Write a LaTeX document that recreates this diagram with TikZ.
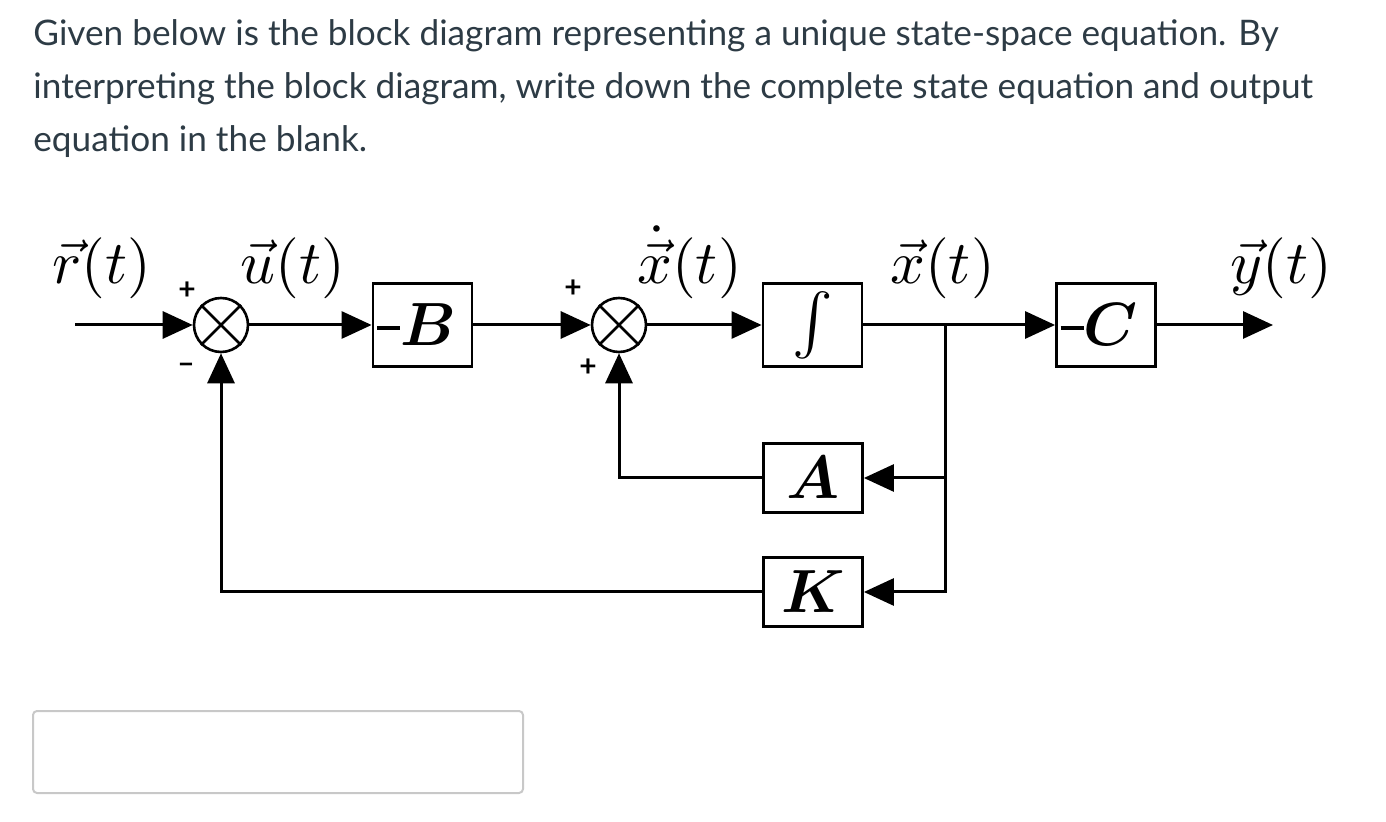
\documentclass[tikz,border=0pt]{standalone}
\usepackage{amsmath,bm}
\usepackage[no-math]{fontspec}
\newfontfamily\latofont{Lato}
\usetikzlibrary{arrows.meta}

\definecolor{canvastext}{RGB}{45,59,69}
\definecolor{fieldgray}{RGB}{200,200,200}
\newcommand{\bigmath}[1]{\scalebox{3.05}{$#1$}}
\newcommand{\negbar}{\rule[8.2pt]{11.5pt}{1.7pt}}

\tikzset{
  para/.style={anchor=base west, inner sep=0, text=canvastext, font=\latofont\fontsize{17.6}{20}\selectfont},
  wire/.style={line width=1.5pt},
  flow/.style={wire, -{Triangle[length=15pt, width=13.5pt]}},
  blockbox/.style={draw, line width=1.4pt, minimum width=49.5pt, inner sep=0pt},
  gainbox/.style={blockbox, text width=45.5pt, align=left, inner xsep=2pt, minimum height=41.6pt},
  sumpt/.style={draw, circle, line width=1.3pt, minimum size=27pt, inner sep=0pt},
  sig/.style={anchor=base west, inner sep=0pt},
  sgn/.style={inner sep=0pt, font=\latofont\bfseries\fontsize{15}{18}\selectfont}
}

\begin{document}
\begin{tikzpicture}[x=0.5pt, y=-0.5pt]
  \useasboundingbox (0,0) rectangle (1386,822);

  % question
  \node[para] (line1) at (33,46) {Given below is the block diagram representing a unique state-space equation. By};
  \node[para] (line2) at (33,99) {interpreting the block diagram, write down the complete state equation and output};
  \node[para] (line3) at (33,152) {equation in the blank.};

  % blocks
  \node[sumpt] (s1) at (221,325) {};
  \node[gainbox] (Bbox) at (422.5,325) {\negbar\bigmath{\bm{B}}};
  \node[sumpt] (s2) at (619,325) {};
  \node[blockbox, minimum height=41.6pt] (intg) at (812.5,325) {\bigmath{\int}};
  \node[gainbox] (Cbox) at (1106,325) {\negbar\bigmath{\bm{C}}};
  \node[blockbox, minimum height=34.6pt] (Abox) at (813,478) {\bigmath{\bm{A}}};
  \node[blockbox, minimum height=34.6pt] (Kbox) at (813,592) {\bigmath{\bm{K}}};
  \draw[line width=1.3pt] (s1.45) -- (s1.225) (s1.135) -- (s1.-45);
  \draw[line width=1.3pt] (s2.45) -- (s2.225) (s2.135) -- (s2.-45);

  \coordinate (in) at (75,325);
  \coordinate (br) at (945,325);
  \coordinate (brA) at (945,478);
  \coordinate (out) at (1273,325);

  % signals
  \draw[flow] (in) -- (s1);
  \draw[flow] (s1) -- (Bbox);
  \draw[flow] (Bbox) -- (s2);
  \draw[flow] (s2) -- (intg);
  \draw[wire] (intg) -- (br);
  \draw[flow] (br) -- (Cbox);
  \draw[flow] (Cbox) -- (out);
  \draw[flow] (br) |- (Kbox);
  \draw[flow] (brA) -- (Abox);
  \draw[flow] (Abox) -| (s2);
  \draw[flow] (Kbox) -| (s1);

  % labels
  \node[sig] (rlab) at (52,284) {\bigmath{\vec{r}(t)}};
  \node[sig] (ulab) at (240,284) {\bigmath{\vec{u}(t)}};
  \node[sig] (xdlab) at (637,284) {\bigmath{\dot{\vec{x}}(t)}};
  \node[sig] (xlab) at (890,284) {\bigmath{\vec{x}(t)}};
  \node[sig] (ylab) at (1230,284) {\bigmath{\vec{y}(t)}};
  \node[sgn] (p1) at (187,291) {+};
  \node[sgn] (m1) at (186,368) {–};
  \node[sgn] (p2) at (573,289) {+};
  \node[sgn] (p3) at (588,368) {+};

  % answer field
  \draw[fieldgray, line width=1pt, rounded corners=2pt] (33,711) rectangle (523,793);
\end{tikzpicture}
\end{document}
